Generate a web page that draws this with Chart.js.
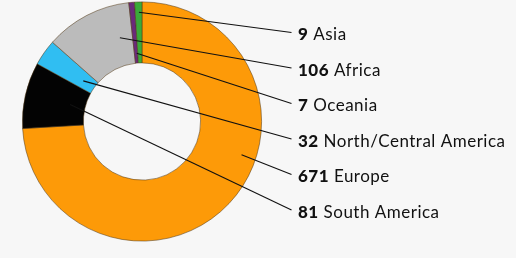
<!DOCTYPE html>
<html>
<head>
<meta charset="utf-8">
<script src="https://cdn.jsdelivr.net/npm/chart.js@4/dist/chart.umd.min.js"></script>
<style>
  html, body { margin: 0; padding: 0; background: #F7F7F7; }
  #wrap { width: 516px; height: 258px; position: relative; }
</style>
</head>
<body>
<div id="wrap"><canvas id="c" width="516" height="258"></canvas></div>
<script>
// Data (chart order, clockwise from the top)
const categories = ["Europe", "South America", "North/Central America", "Africa", "Oceania", "Asia"];
const values = [671, 81, 32, 106, 7, 9];
const colors = ["#FD9A08", "#030303", "#30BEF2", "#BBBBBB", "#6A2A7A", "#3AAA3A"];
// Order of the text labels, top to bottom
const labelOrder = ["Asia", "Africa", "Oceania", "North/Central America", "Europe", "South America"];
// Where each leader line starts inside its slice: [fraction along angle, fraction across ring]
const anchorFrac = {
  "Asia": [0.55, 0.83],
  "Africa": [0.80, 0.46],
  "Oceania": [0.70, 0.16],
  "North/Central America": [0.46, 0.21],
  "Europe": [0.407, 0.76],
  "South America": [0.52, 0.25]
};

const bgPlugin = {
  id: 'bg',
  beforeDraw(chart) {
    const ctx = chart.ctx;
    ctx.save();
    ctx.fillStyle = '#F7F7F7';
    ctx.fillRect(0, 0, chart.width, chart.height);
    ctx.restore();
  }
};

const labelPlugin = {
  id: 'labels',
  afterDatasetsDraw(chart) {
    const ctx = chart.ctx;
    const meta = chart.getDatasetMeta(0);
    const textX = 298;
    const lineEndX = 291.5;
    const firstBaseline = 40;
    const step = 35.5;
    ctx.save();
    labelOrder.forEach((name, i) => {
      const idx = categories.indexOf(name);
      const arc = meta.data[idx];
      const p = arc.getProps(['x', 'y', 'startAngle', 'endAngle', 'innerRadius', 'outerRadius'], true);
      const [fa, fr] = anchorFrac[name];
      const a = p.startAngle + (p.endAngle - p.startAngle) * fa;
      const r = p.innerRadius + (p.outerRadius - p.innerRadius) * fr;
      const sx = p.x + Math.cos(a) * r;
      const sy = p.y + Math.sin(a) * r;
      const baseline = firstBaseline + step * i;
      const ey = baseline - 7.5;
      ctx.beginPath();
      ctx.strokeStyle = '#111';
      ctx.lineWidth = 1.1;
      ctx.moveTo(sx, sy);
      ctx.lineTo(lineEndX, ey);
      ctx.stroke();

      ctx.textBaseline = 'alphabetic';
      ctx.textAlign = 'left';
      ctx.fillStyle = '#111';
      try { ctx.letterSpacing = '0.5px'; } catch (e) {}
      const num = String(values[idx]);
      ctx.font = '900 17px Lato';
      ctx.fillText(num, textX, baseline);
      const w = ctx.measureText(num).width;
      ctx.font = '17px Lato';
      ctx.fillText(' ' + name, textX + w, baseline);
    });
    ctx.restore();
  }
};

new Chart(document.getElementById('c'), {
  type: 'doughnut',
  data: {
    labels: categories,
    datasets: [{
      data: values,
      backgroundColor: colors,
      borderColor: 'rgba(80,55,20,0.65)',
      borderWidth: 0.8,
      hoverOffset: 0
    }]
  },
  options: {
    responsive: false,
    animation: false,
    cutout: '49%',
    layout: { padding: { left: 22, right: 254, top: 1.5, bottom: 16.5 } },
    plugins: {
      legend: { display: false },
      tooltip: { enabled: false }
    },
    events: []
  },
  plugins: [bgPlugin, labelPlugin]
});
</script>
</body>
</html>
